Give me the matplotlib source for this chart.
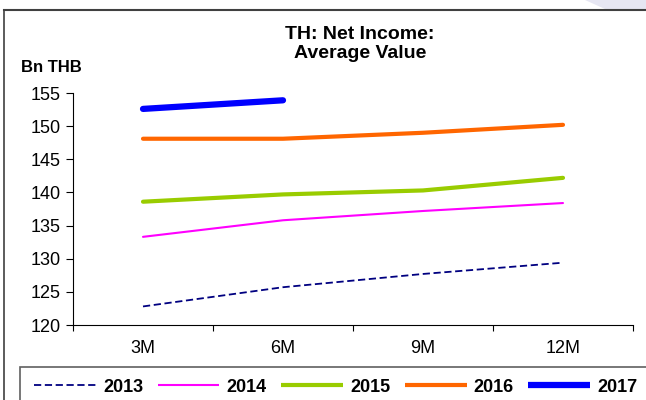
import matplotlib
matplotlib.use("Agg")
import matplotlib.pyplot as plt
from matplotlib.patches import Rectangle, Polygon
from matplotlib.lines import Line2D

plt.rcParams['font.family'] = ['Liberation Sans', 'DejaVu Sans']

categories = ["3M", "6M", "9M", "12M"]
years = ["2013", "2014", "2015", "2016", "2017"]
v2013 = [122.8, 125.7, 127.7, 129.4]
v2014 = [133.3, 135.8, 137.2, 138.4]
v2015 = [138.6, 139.7, 140.3, 142.2]
v2016 = [148.1, 148.1, 149.0, 150.2]
v2017 = [152.6, 153.9]
yticks = [120, 125, 130, 135, 140, 145, 150, 155]

series = [v2013, v2014, v2015, v2016, v2017]
colors = ["#000080", "#FF00FF", "#99CC00", "#FF6600", "#0000FF"]
widths = [1.3, 1.5, 3.0, 3.0, 4.5]
styles = [(0, (4, 2)), "-", "-", "-", "-"]

W, H = 646, 400
fig = plt.figure(figsize=(W / 100, H / 100), dpi=100)

# outer frame
fig.add_artist(Line2D([4 / W, 4 / W], [0, 1 - 10 / H], color="#404040", lw=1.2, transform=fig.transFigure))
fig.add_artist(Line2D([4 / W, 1], [1 - 10 / H, 1 - 10 / H], color="#404040", lw=1.5, transform=fig.transFigure))
fig.add_artist(Polygon([[585 / W, 1], [1, 1], [1, 1 - 9 / H], [605 / W, 1 - 9 / H]],
                       closed=True, facecolor="#E6E6F2", edgecolor="none", transform=fig.transFigure))

ax = fig.add_axes([73 / W, 1 - 325 / H, (633 - 73) / W, (325 - 93) / H])
x = list(range(len(categories)))
for vals, c, lw, ls in zip(series, colors, widths, styles):
    ax.plot(x[:len(vals)], vals, color=c, lw=lw, linestyle=ls, solid_capstyle="round",
            dash_capstyle="butt")

ax.set_xlim(-0.5, len(categories) - 0.5)
ax.set_ylim(120, 155)
ax.set_yticks(yticks)
ax.set_yticklabels([str(t) for t in yticks], fontsize=13)
ax.set_xticks(x)
ax.set_xticklabels(categories, fontsize=13)
ax.tick_params(axis="x", length=0, pad=11)
ax.set_xticks([i - 0.5 for i in range(len(categories) + 1)], minor=True)
ax.tick_params(axis="x", which="minor", length=4, direction="out", width=0.8)
ax.tick_params(axis="y", length=5, direction="out", width=0.8, pad=4)
for s in ["top", "right"]:
    ax.spines[s].set_visible(False)
for s in ["left", "bottom"]:
    ax.spines[s].set_linewidth(0.8)

fig.text(360 / W, 1 - 44 / H, "TH: Net Income:\nAverage Value", ha="center", va="center",
         fontsize=14, fontweight="bold", linespacing=1.1)
fig.text(21 / W, 1 - 67 / H, "Bn THB", ha="left", va="center", fontsize=12, fontweight="bold")

# legend
fig.add_artist(Rectangle((20 / W, -0.05), 1, (400 - 367) / H + 0.05, facecolor="white",
                         edgecolor="#606060", lw=1.2, transform=fig.transFigure))
handles = [Line2D([], [], color=c, lw=lw, linestyle=ls, solid_capstyle="butt")
           for c, lw, ls in zip(colors, widths, styles)]
leg = fig.legend(handles, years, loc="center left", bbox_to_anchor=(34 / W, 1 - 387 / H), ncol=5,
                 frameon=False, prop={"weight": "bold", "size": 13}, handlelength=3.43,
                 handletextpad=0.39, columnspacing=0.8, borderpad=0, borderaxespad=0)

fig.savefig("out.png", dpi=100)
